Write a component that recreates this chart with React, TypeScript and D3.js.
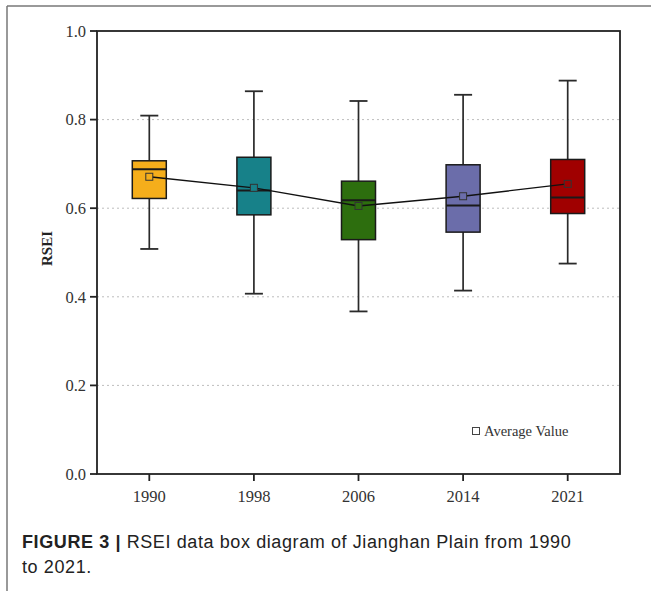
import React from "react";
import * as d3 from "d3";

const years = ["1990", "1998", "2006", "2014", "2021"];
const whiskerHigh = [0.809, 0.864, 0.842, 0.856, 0.888];
const q3Values = [0.707, 0.715, 0.661, 0.698, 0.71];
const medianValues = [0.688, 0.64, 0.618, 0.606, 0.624];
const meanValues = [0.671, 0.646, 0.605, 0.627, 0.655];
const q1Values = [0.622, 0.585, 0.529, 0.546, 0.588];
const whiskerLow = [0.508, 0.407, 0.367, 0.414, 0.475];
const boxColors = ["#F5AE1B", "#178189", "#2D6E0E", "#6B6DAA", "#A00000"];
const yTicks = [0, 0.2, 0.4, 0.6, 0.8, 1.0];
const gridTicks = [0.2, 0.4, 0.6, 0.8];

const W = 651;
const H = 591;
const left = 97;
const right = 620;
const top = 31;
const bottom = 474;

export default function App() {
  const x = d3.scaleBand<string>().domain(years).range([left, right]).padding(0);
  const y = d3.scaleLinear().domain([0, 1]).range([bottom, top]);
  const cx = (i: number) => (x(years[i]) as number) + x.bandwidth() / 2;
  const boxW = 34;
  const capW = 18;
  const serif = "'Liberation Serif', 'Times New Roman', serif";
  const sans = "'Liberation Sans', Arial, sans-serif";
  const line = d3
    .line<number>()
    .x((_, i) => cx(i))
    .y((d) => y(d));

  return (
    <svg
      width={W}
      height={H}
      style={{ position: "fixed", left: 0, top: 0, background: "#fff" }}
    >
      <rect x={0} y={0} width={W} height={H} fill="#fff" />
      {/* outer page frame */}
      <line x1={7} y1={6} x2={W} y2={6} stroke="#777" strokeWidth={1.5} />
      <line x1={7} y1={6} x2={7} y2={H} stroke="#777" strokeWidth={1.5} />

      {/* grid */}
      {gridTicks.map((t) => (
        <line
          key={"g" + t}
          x1={left}
          x2={right}
          y1={y(t)}
          y2={y(t)}
          stroke="#bdbdbd"
          strokeWidth={1}
          strokeDasharray="2,3"
        />
      ))}

      {/* frame */}
      <rect
        x={left}
        y={top}
        width={right - left}
        height={bottom - top}
        fill="none"
        stroke="#222"
        strokeWidth={1.8}
      />

      {/* y ticks */}
      {yTicks.map((t) => (
        <g key={"y" + t}>
          <line x1={left - 7} x2={left} y1={y(t)} y2={y(t)} stroke="#222" strokeWidth={1.8} />
          <text
            x={86}
            y={y(t)}
            dy="0.35em"
            textAnchor="end"
            fontFamily={serif}
            fontSize={16.5}
            fill="#333"
          >
            {t.toFixed(1)}
          </text>
        </g>
      ))}

      {/* x ticks */}
      {years.map((yr, i) => (
        <g key={"x" + yr}>
          <line x1={cx(i)} x2={cx(i)} y1={bottom} y2={bottom + 7} stroke="#222" strokeWidth={1.8} />
          <text
            x={cx(i)}
            y={502}
            textAnchor="middle"
            fontFamily={serif}
            fontSize={16.5}
            fill="#333"
          >
            {yr}
          </text>
        </g>
      ))}

      {/* y axis label */}
      <text
        transform={`translate(52,${y(0.5) - 4}) rotate(-90)`}
        textAnchor="middle"
        fontFamily={serif}
        fontWeight="bold"
        fontSize={15}
        fill="#222"
      >
        RSEI
      </text>

      {/* boxes */}
      {years.map((yr, i) => (
        <g key={"b" + yr}>
          <line x1={cx(i)} x2={cx(i)} y1={y(whiskerHigh[i])} y2={y(q3Values[i])} stroke="#2a2a2a" strokeWidth={1.7} />
          <line x1={cx(i)} x2={cx(i)} y1={y(q1Values[i])} y2={y(whiskerLow[i])} stroke="#2a2a2a" strokeWidth={1.7} />
          <line x1={cx(i) - capW / 2} x2={cx(i) + capW / 2} y1={y(whiskerHigh[i])} y2={y(whiskerHigh[i])} stroke="#2a2a2a" strokeWidth={1.8} />
          <line x1={cx(i) - capW / 2} x2={cx(i) + capW / 2} y1={y(whiskerLow[i])} y2={y(whiskerLow[i])} stroke="#2a2a2a" strokeWidth={1.8} />
          <rect
            x={cx(i) - boxW / 2}
            y={y(q3Values[i])}
            width={boxW}
            height={y(q1Values[i]) - y(q3Values[i])}
            fill={boxColors[i]}
            stroke="#1a1a1a"
            strokeWidth={1.5}
          />
          <line x1={cx(i) - boxW / 2} x2={cx(i) + boxW / 2} y1={y(medianValues[i])} y2={y(medianValues[i])} stroke="#1a1a1a" strokeWidth={2} />
        </g>
      ))}

      {/* mean line */}
      <path d={line(meanValues) || ""} fill="none" stroke="#111" strokeWidth={1.4} />
      {meanValues.map((m, i) => (
        <rect
          key={"m" + i}
          x={cx(i) - 3.5}
          y={y(m) - 3.5}
          width={7}
          height={7}
          fill={boxColors[i]}
          stroke="#333"
          strokeWidth={1}
        />
      ))}

      {/* legend */}
      <rect x={472.5} y={427.5} width={7} height={7} fill="#fff" stroke="#444" strokeWidth={1} />
      <text x={484} y={436} fontFamily={serif} fontSize={14.5} fill="#333">
        Average Value
      </text>

      {/* caption */}
      <text x={22} y={548} fontFamily={sans} fontSize={18} fill="#222" letterSpacing={0.6}>
        <tspan fontWeight="bold">FIGURE 3 | </tspan>
        <tspan>RSEI data box diagram of Jianghan Plain from 1990</tspan>
      </text>
      <text x={22} y={573} fontFamily={sans} fontSize={18} fill="#222" letterSpacing={0.6}>
        to 2021.
      </text>
    </svg>
  );
}
